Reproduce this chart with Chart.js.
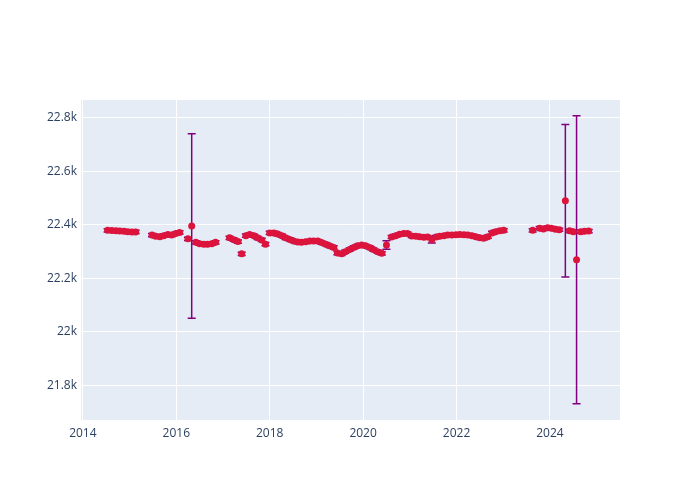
<!DOCTYPE html>
<html>
<head>
<meta charset="utf-8">
<script src="https://cdn.jsdelivr.net/npm/chart.js@4.4.0/dist/chart.umd.min.js"></script>
<style>
  html, body { margin: 0; padding: 0; background: #fff; }
  #wrap { width: 700px; height: 500px; }
</style>
</head>
<body>
<div id="wrap"><canvas id="chart" width="700" height="500"></canvas></div>
<script>
// years (decimal) of each measurement
const years = [
  2014.53, 2014.62, 2014.71, 2014.79, 2014.88, 2014.96, 2015.05, 2015.13,
  2015.48, 2015.56, 2015.65, 2015.73, 2015.82, 2015.90, 2015.99, 2016.07,
  2016.25, 2016.33, 2016.42, 2016.50, 2016.59, 2016.67, 2016.76, 2016.84,
  2017.14, 2017.23, 2017.32, 2017.40, 2017.49, 2017.57, 2017.66, 2017.74, 2017.83, 2017.91,
  2018.00, 2018.09, 2018.17, 2018.26, 2018.34, 2018.43, 2018.51, 2018.60, 2018.68, 2018.77, 2018.86, 2018.94,
  2019.03, 2019.11, 2019.20, 2019.28, 2019.37, 2019.45, 2019.54, 2019.62, 2019.71, 2019.80, 2019.88, 2019.97,
  2020.05, 2020.14, 2020.22, 2020.31, 2020.40, 2020.50,
  2020.61, 2020.70, 2020.78, 2020.87, 2020.95,
  2021.04, 2021.13, 2021.21, 2021.30, 2021.38, 2021.47, 2021.56, 2021.64,
  2021.73, 2021.81, 2021.90, 2021.99, 2022.07, 2022.16, 2022.24, 2022.33, 2022.41, 2022.50, 2022.58, 2022.67,
  2022.76, 2022.84, 2022.93, 2023.01,
  2023.63, 2023.78, 2023.86, 2023.95, 2024.03, 2024.12, 2024.20, 2024.33, 2024.42, 2024.50, 2024.57,
  2024.66, 2024.74, 2024.83
];
const values = [
  22380, 22379, 22378, 22377, 22376, 22375, 22374, 22374,
  22362, 22358, 22356, 22360, 22364, 22362, 22368, 22372,
  22348, 22396, 22335, 22330, 22328, 22328, 22330, 22335,
  22352, 22345, 22338, 22292, 22360, 22364, 22360, 22352, 22344, 22328,
  22370, 22370, 22366, 22360, 22352, 22346, 22340, 22336, 22335, 22337, 22340, 22340,
  22340, 22334, 22328, 22322, 22316, 22295, 22292, 22300, 22308, 22316, 22322, 22325,
  22322, 22316, 22308, 22300, 22294, 22325,
  22355, 22360, 22365, 22368, 22368,
  22359, 22358, 22356, 22354, 22355, 22345, 22355, 22358,
  22360, 22362, 22362, 22363, 22364, 22363, 22362, 22360, 22356, 22352, 22350, 22356,
  22370, 22375, 22378, 22380,
  22380, 22388, 22385, 22390, 22388, 22384, 22382, 22490, 22378, 22375, 22270,
  22375, 22376, 22377
];
const errors = [
  6, 6, 6, 6, 6, 6, 6, 6,
  6, 6, 6, 6, 6, 6, 6, 6,
  6, 345, 6, 6, 6, 6, 6, 6,
  6, 6, 6, 6, 6, 6, 6, 6, 6, 6,
  6, 6, 6, 6, 6, 6, 6, 6, 6, 6, 6, 6,
  6, 6, 6, 6, 6, 6, 6, 6, 6, 6, 6, 6,
  6, 6, 6, 6, 6, 16,
  6, 6, 6, 6, 6,
  6, 6, 6, 6, 6, 12, 6, 6,
  6, 6, 6, 6, 6, 6, 6, 6, 6, 6, 6, 6,
  6, 6, 6, 6,
  6, 6, 6, 6, 6, 6, 6, 285, 6, 6, 538,
  6, 6, 6
];
const xTicks = [2014, 2016, 2018, 2020, 2022, 2024];
const yTicks = [21800, 22000, 22200, 22400, 22600, 22800];

const points = years.map((y, i) => ({ x: y, y: values[i], err: errors[i] }));

// fond de la zone de tracé
const plotBg = {
  id: 'plotBg',
  beforeDraw(chart) {
    const { ctx, chartArea: a } = chart;
    ctx.save();
    ctx.fillStyle = '#E5ECF6';
    ctx.fillRect(a.left, a.top, a.right - a.left, a.bottom - a.top);
    ctx.restore();
  }
};

// barres d'erreur
const errorBars = {
  id: 'errorBars',
  beforeDatasetsDraw(chart) {
    const { ctx, scales: { x, y } } = chart;
    ctx.save();
    ctx.strokeStyle = '#800080';
    ctx.lineWidth = 1.5;
    points.forEach(p => {
      const px = x.getPixelForValue(p.x);
      const top = y.getPixelForValue(p.y + p.err);
      const bot = y.getPixelForValue(p.y - p.err);
      ctx.beginPath();
      ctx.moveTo(px, top); ctx.lineTo(px, bot);
      ctx.moveTo(px - 4, top); ctx.lineTo(px + 4, top);
      ctx.moveTo(px - 4, bot); ctx.lineTo(px + 4, bot);
      ctx.stroke();
    });
    ctx.restore();
  }
};

const ctx = document.getElementById('chart').getContext('2d');
const chart = new Chart(ctx, {
  type: 'scatter',
  data: {
    datasets: [{
      data: points,
      backgroundColor: '#DC143C',
      borderWidth: 0,
      pointRadius: 3.5,
      pointHoverRadius: 3.5
    }]
  },
  options: {
    responsive: false,
    animation: false,
    layout: { padding: { left: 0, top: 100, right: 80, bottom: 0 } },
    plugins: { legend: { display: false }, tooltip: { enabled: false } },
    scales: {
      x: {
        type: 'linear',
        min: 2013.96,
        max: 2025.5,
        afterBuildTicks: s => { s.ticks = xTicks.map(v => ({ value: v })); },
        afterFit: s => { s.height = 80; },
        grid: { color: '#fff', lineWidth: 1, drawTicks: false },
        border: { display: false },
        ticks: {
          color: '#2a3f5f',
          font: { family: 'Open Sans', size: 12 },
          padding: 6,
          maxRotation: 0,
          callback: v => String(v)
        }
      },
      y: {
        min: 21671,
        max: 22867,
        afterBuildTicks: s => { s.ticks = yTicks.map(v => ({ value: v })); },
        afterFit: s => { s.width = 81; },
        grid: { color: '#fff', lineWidth: 1, drawTicks: false },
        border: { display: false },
        ticks: {
          color: '#2a3f5f',
          font: { family: 'Open Sans', size: 12 },
          padding: 4,
          callback: v => (v % 1000 === 0 ? (v / 1000) + 'k' : (v / 1000).toFixed(1) + 'k')
        }
      }
    }
  },
  plugins: [plotBg, errorBars]
});
</script>
</body>
</html>
